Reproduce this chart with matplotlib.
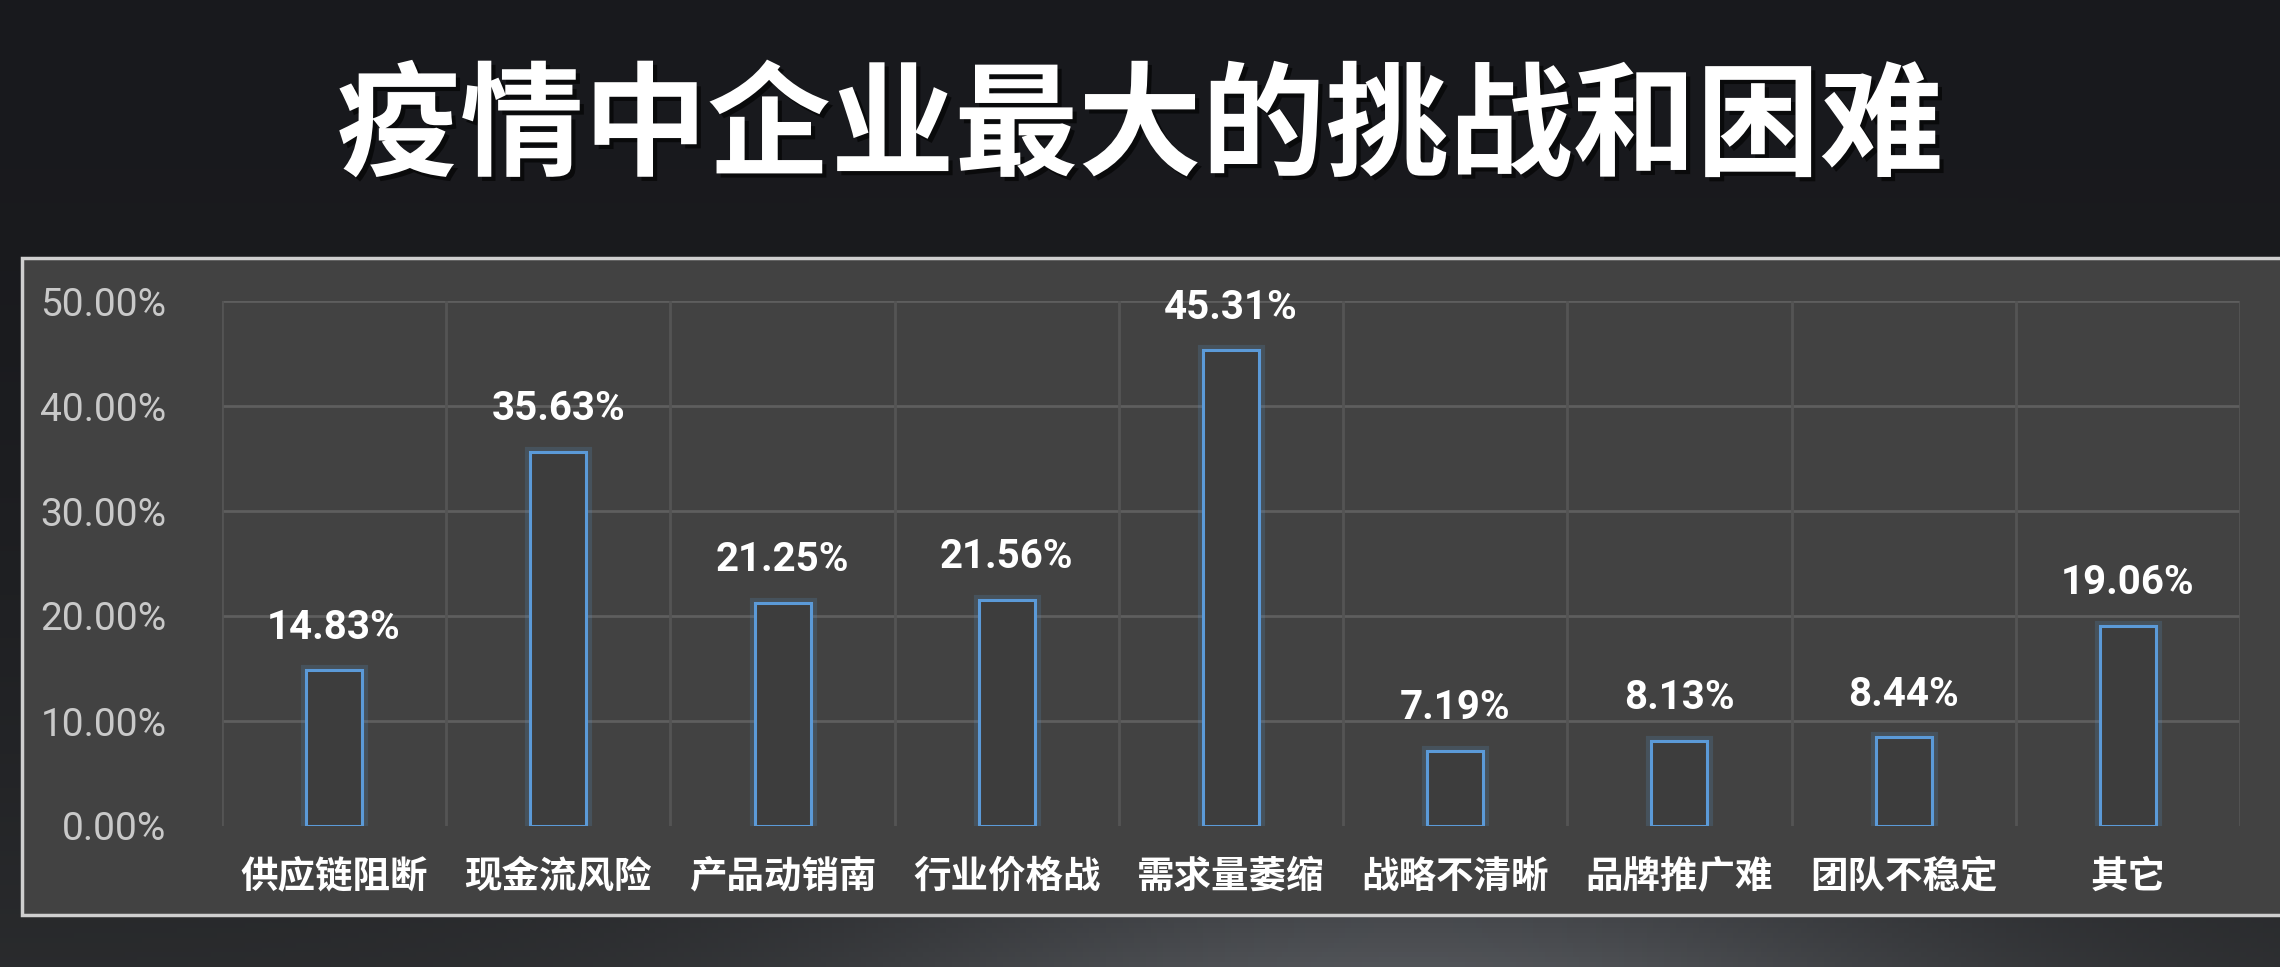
import matplotlib
matplotlib.use("Agg")
import matplotlib.pyplot as plt
import matplotlib.patheffects as pe
from matplotlib.patches import Rectangle
import numpy as np

plt.rcParams["font.family"] = ["Noto Sans CJK SC", "DejaVu Sans"]

TITLE = "疫情中企业最大的挑战和困难"
categories = ["供应链阻断", "现金流风险", "产品动销南", "行业价格战", "需求量萎缩",
              "战略不清晰", "品牌推广难", "团队不稳定", "其它"]
values = [14.83, 35.63, 21.25, 21.56, 45.31, 7.19, 8.13, 8.44, 19.06]
y_ticks = [0, 10, 20, 30, 40, 50]

W, H, DPI = 2280, 967, 100
fig = plt.figure(figsize=(W / DPI, H / DPI), dpi=DPI)

# dark slide background, faintly blue at the top, lighter towards the bottom
bg = fig.add_axes([0, 0, 1, 1], zorder=-10)
yy, xx = np.mgrid[0:1:200j, 0:1:400j]
shade = 0.10 + 0.07 * yy ** 2 + 0.16 * yy ** 5 * np.exp(-((xx - 0.62) / 0.25) ** 2)
tint = 1.0 + 0.10 * (1 - yy)
rgb = np.dstack([shade * 0.96, shade * 0.99, shade * 1.04 * tint]).clip(0, 1)
bg.imshow(rgb, extent=[0, 1, 0, 1], aspect="auto", origin="upper")
bg.set_axis_off()

# grey panel behind the chart
panel = Rectangle((22 / W, 1 - 915 / H), 1.2, (915 - 258) / H,
                  transform=fig.transFigure, facecolor="#424242",
                  edgecolor="#cfcfcf", linewidth=2.5, zorder=-5)
fig.patches.append(panel)

fig.text(0.5, 1 - 130 / H, TITLE, ha="center", va="center", color="white",
         fontsize=89, fontweight="bold", family=["Noto Sans CJK SC"],
         path_effects=[pe.withSimplePatchShadow(offset=(3, -3), shadow_rgbFace="black", alpha=0.6)])

ax = fig.add_axes([222 / W, 1 - 826 / H, (2240 - 222) / W, (826 - 301) / H])
ax.set_facecolor("none")
x = np.arange(len(categories))

# glow + outline bars
ax.bar(x, values, width=0.25, facecolor="none", edgecolor="#5b9bd5",
       linewidth=8, alpha=0.18, zorder=3)
ax.bar(x, values, width=0.25, facecolor="#3d3d3d", edgecolor="#5b9ad8",
       linewidth=2.2, zorder=4)

for xi, v in zip(x, values):
    ax.annotate(f"{v:.2f}%", (xi, v), xytext=(0, 17), textcoords="offset points",
                ha="center", va="bottom", color="white", fontsize=29,
                family=["Roboto", "DejaVu Sans"], fontweight="bold", zorder=5)

ax.set_xlim(-0.5, len(categories) - 0.5)
ax.set_ylim(0, 50)
ax.set_yticks(y_ticks)
ax.set_yticklabels([f"{t:.2f}%" for t in y_ticks], family=["Roboto", "DejaVu Sans"],
                   fontsize=28, color="#c9c9c9")
ax.set_xticks(x)
ax.set_xticklabels(categories, fontsize=27, color="white", fontweight="bold",
                   family=["Noto Sans CJK SC"])
ax.tick_params(axis="y", length=0, pad=40)
ax.tick_params(axis="x", length=0, pad=22)

# grid: horizontal lines at 10..50, vertical lines between categories
for t in y_ticks[1:]:
    ax.axhline(t, color="#5e5e5e", linewidth=2, zorder=1)
for b in np.arange(len(categories) + 1) - 0.5:
    ax.axvline(b, ymin=0.0, ymax=1.0, color="#545454", linewidth=2, zorder=1)

for s in ax.spines.values():
    s.set_visible(False)

fig.savefig("out.png", dpi=DPI)
